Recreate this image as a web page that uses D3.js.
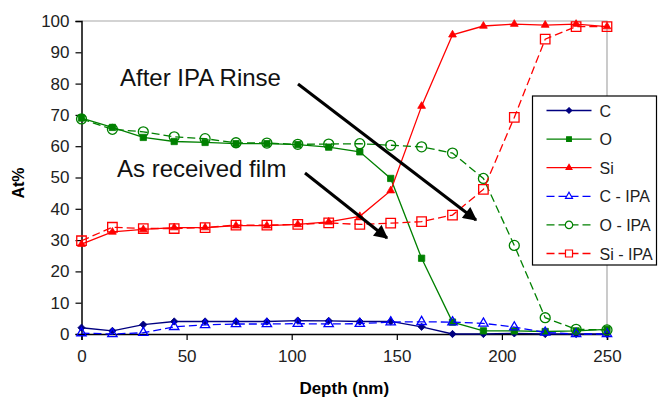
<!DOCTYPE html>
<html>
<head>
<meta charset="utf-8">
<script src="https://cdn.jsdelivr.net/npm/d3@7"></script>
<style>
  body { margin: 0; background: #fff; }
  text { font-family: "Liberation Sans", Arial, sans-serif; }
</style>
</head>
<body>
<svg id="chart" width="658" height="399"></svg>
<script>
// depth of each sputter step (nm)
var depth = [0, 14.7, 29.4, 44.1, 58.8, 73.5, 88.2, 102.9, 117.6, 132.4,
             147.1, 161.8, 176.5, 191.2, 205.9, 220.6, 235.3, 250];

var c_raw  = [2, 1, 3, 4, 4, 4, 4, 4.3, 4.2, 4, 4, 2.3, 0, 0, 0.2, 0, 0, 0];
var o_raw  = [69, 66, 62.8, 61.5, 61.2, 60.8, 60.8, 60.5, 59.7, 58.2, 49.7, 24.2, 3.8, 1, 1, 0.8, 1, 1.5];
var si_raw = [28.7, 32.6, 33.4, 34, 34, 34.6, 34.6, 35, 35.8, 37.6, 45.8, 72.8, 95.6, 98.4, 99, 98.7, 99, 98.2];

var c_ipa  = [0.3, 0, 0.4, 2.3, 2.9, 3.2, 3.2, 3.3, 3.2, 3.3, 3.8, 3.9, 3.8, 3.4, 2.2, 0.5, 0, 0];
var o_ipa  = [68.7, 65.4, 64.6, 63, 62.4, 61.1, 61, 60.6, 60.7, 60.8, 60.3, 59.8, 57.8, 49.7, 28.3, 5.2, 1.5, 1.3];
var si_ipa = [29.8, 34.1, 33.7, 33.7, 34, 34.8, 34.8, 35, 35.5, 35, 35.4, 35.9, 38, 46.2, 69.2, 94.2, 98.2, 98.2];

var yTicks = [0, 10, 20, 30, 40, 50, 60, 70, 80, 90, 100];
var xTicks = [0, 50, 100, 150, 200, 250];

var series = [
    { name: 'C',        values: c_raw,  color: '#000080', dash: null,  symbol: d3.symbolDiamond2 || d3.symbolDiamond, size: 34, fill: true },
    { name: 'O',        values: o_raw,  color: '#008000', dash: null,  symbol: d3.symbolSquare,   size: 40, fill: true },
    { name: 'Si',       values: si_raw, color: '#ff0000', dash: null,  symbol: d3.symbolTriangle, size: 26, fill: true },
    { name: 'C - IPA',  values: c_ipa,  color: '#0000ff', dash: '8,4', symbol: d3.symbolTriangle, size: 38, fill: false },
    { name: 'O - IPA',  values: o_ipa,  color: '#008000', dash: '8,4', symbol: d3.symbolCircle,   size: 78, fill: false },
    { name: 'Si - IPA', values: si_ipa, color: '#ff0000', dash: '8,4', symbol: d3.symbolSquare,   size: 90, fill: false },
];

var margin = { left: 81.5, right: 51, top: 21, bottom: 65 };
var svg = d3.select('#chart');
var W = +svg.attr('width'), H = +svg.attr('height');

var x = d3.scaleLinear().domain([0, 250]).range([margin.left, W - margin.right]);
var y = d3.scaleLinear().domain([0, 100]).range([H - margin.bottom, margin.top]);

// grey frame on top and right
svg.append('path')
    .attr('d', 'M' + x(0) + ',' + y(100) + 'H' + x(250) + 'V' + y(0))
    .attr('fill', 'none')
    .attr('stroke', '#a8a8a8')
    .attr('stroke-width', 1.2);

// axes
var yAxis = svg.append('g')
    .attr('transform', 'translate(' + x(0) + ',0)')
    .call(d3.axisLeft(y).tickValues(yTicks).tickSize(6).tickPadding(6));
var xAxis = svg.append('g')
    .attr('transform', 'translate(0,' + y(0) + ')')
    .call(d3.axisBottom(x).tickValues(xTicks).tickSize(6).tickPadding(10));

[xAxis, yAxis].forEach(function (a) {
    a.select('.domain').attr('stroke', '#000').attr('stroke-width', 1.5);
    a.selectAll('.tick line').attr('stroke', '#000').attr('stroke-width', 1.2);
    a.selectAll('.tick text')
        .attr('font-family', '"Liberation Sans", Arial, sans-serif')
        .attr('font-size', 17)
        .attr('fill', '#222');
});

svg.append('text')
    .attr('transform', 'translate(24,' + 183 + ') rotate(-90)')
    .attr('text-anchor', 'middle')
    .attr('font-weight', 'bold')
    .attr('font-size', 16)
    .text('At%');

svg.append('text')
    .attr('x', (x(0) + x(250)) / 2)
    .attr('y', 394)
    .attr('text-anchor', 'middle')
    .attr('font-weight', 'bold')
    .attr('font-size', 17)
    .text('Depth (nm)');

// series
var line = d3.line()
    .x(function (d, i) { return x(depth[i]); })
    .y(function (d) { return y(d); });

series.forEach(function (s) {
    var g = svg.append('g');
    g.append('path')
        .attr('d', line(s.values))
        .attr('fill', 'none')
        .attr('stroke', s.color)
        .attr('stroke-width', 1.3)
        .attr('stroke-dasharray', s.dash);
    g.selectAll('path.mark')
        .data(s.values)
        .enter().append('path')
            .attr('class', 'mark')
            .attr('transform', function (d, i) { return 'translate(' + x(depth[i]) + ',' + y(d) + ')'; })
            .attr('d', d3.symbol().type(s.symbol).size(s.size))
            .attr('fill', s.fill ? s.color : 'none')
            .attr('stroke', s.color)
            .attr('stroke-width', s.fill ? 0.8 : 1.3);
});

// annotations
svg.append('defs').append('marker')
    .attr('id', 'head')
    .attr('viewBox', '0 0 10 10')
    .attr('refX', 9).attr('refY', 5)
    .attr('markerWidth', 5).attr('markerHeight', 4.6)
    .attr('orient', 'auto')
    .append('path')
        .attr('d', 'M0,0L10,5L0,10Z')
        .attr('fill', '#000');

var notes = [
    { text: 'After IPA Rinse',   tx: 120, ty: 86,  x1: 298, y1: 84,  x2: 476, y2: 220 },
    { text: 'As received film',  tx: 117, ty: 177, x1: 305, y1: 173, x2: 387, y2: 238 },
];
notes.forEach(function (n) {
    svg.append('text')
        .attr('x', n.tx).attr('y', n.ty)
        .attr('font-family', 'Lato, "Open Sans", sans-serif')
        .attr('font-size', 24)
        .attr('fill', '#111')
        .text(n.text);
    svg.append('line')
        .attr('x1', n.x1).attr('y1', n.y1)
        .attr('x2', n.x2).attr('y2', n.y2)
        .attr('stroke', '#000')
        .attr('stroke-width', 3)
        .attr('marker-end', 'url(#head)');
});

// legend
var lg = svg.append('g').attr('transform', 'translate(532.5,96)');
lg.append('rect')
    .attr('width', 124).attr('height', 169)
    .attr('fill', '#fff')
    .attr('stroke', '#000')
    .attr('stroke-width', 1.2);

series.forEach(function (s, i) {
    var row = lg.append('g').attr('transform', 'translate(0,' + (14.5 + i * 28.6) + ')');
    row.append('line')
        .attr('x1', 14).attr('x2', 59)
        .attr('stroke', s.color)
        .attr('stroke-width', 1.3)
        .attr('stroke-dasharray', s.dash);
    row.append('path')
        .attr('transform', 'translate(36.5,0)')
        .attr('d', d3.symbol().type(s.symbol).size(s.size * 0.55))
        .attr('fill', s.fill ? s.color : '#fff')
        .attr('stroke', s.color)
        .attr('stroke-width', 1.2);
    row.append('text')
        .attr('x', 67).attr('y', 6)
        .attr('font-size', 16)
        .attr('fill', '#222')
        .text(s.name);
});
</script>
</body>
</html>
